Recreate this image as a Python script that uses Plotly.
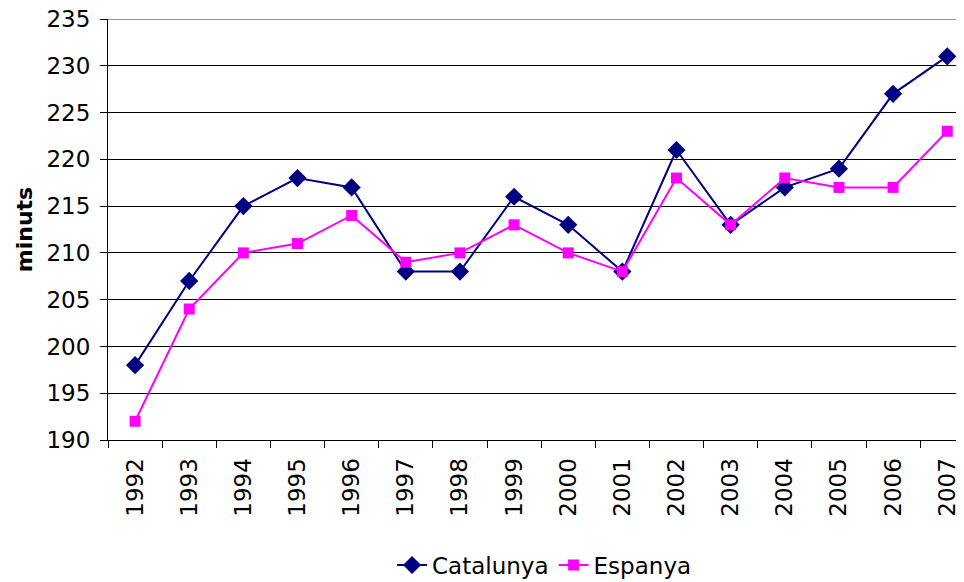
import plotly.graph_objects as go

years = [str(y) for y in range(1992, 2008)]
catalunya = [198, 207, 215, 218, 217, 208, 208, 216, 213, 208, 221, 213, 217, 219, 227, 231]
espanya = [192, 204, 210, 211, 214, 209, 210, 213, 210, 208, 218, 213, 218, 217, 217, 223]

FONT = "DejaVu Sans"

fig = go.Figure()
fig.add_trace(go.Scatter(
    x=years, y=catalunya, name="Catalunya", mode="lines+markers",
    line=dict(color="#000080", width=2),
    marker=dict(symbol="diamond", size=14, color="#000080"),
))
fig.add_trace(go.Scatter(
    x=years, y=espanya, name="Espanya", mode="lines+markers",
    line=dict(color="#FF00FF", width=2),
    marker=dict(symbol="square", size=11, color="#FF00FF"),
))

# top gridline is grey in the original
fig.add_shape(type="line", xref="paper", yref="y", x0=0, x1=1, y0=235, y1=235,
              line=dict(color="#999999", width=2))

# page body has an 8px margin at top/left, figure fills the rest of the window
fig.update_layout(
    width=956, height=574,
    margin=dict(l=100, r=0, t=11, b=142, autoexpand=False),
    plot_bgcolor="white", paper_bgcolor="white",
    font=dict(family=FONT, size=23, color="black"),
    showlegend=True,
    legend=dict(orientation="h", x=0.51, xanchor="center", y=-0.297, yanchor="middle",
                font=dict(family=FONT, size=23)),
    xaxis=dict(
        type="category", range=[-0.5, 15.31], automargin=False,
        tickangle=-90, tickson="boundaries", ticks="outside", ticklen=7,
        tickcolor="black", showline=True, linecolor="black", linewidth=1,
        showgrid=False, tickfont=dict(size=23), ticklabelstandoff=8,
    ),
    yaxis=dict(
        range=[190, 235], dtick=5, tick0=190, automargin=False,
        ticks="outside", ticklen=7, tickcolor="black",
        showline=True, linecolor="black", linewidth=1,
        showgrid=True, gridcolor="black", gridwidth=1,
        tickfont=dict(size=23), ticklabelstandoff=5, ticklabeloverflow="allow",
        title=dict(text="<b>minuts</b>", font=dict(size=22), standoff=7),
        zeroline=False,
    ),
)

fig.write_html("out.html")
